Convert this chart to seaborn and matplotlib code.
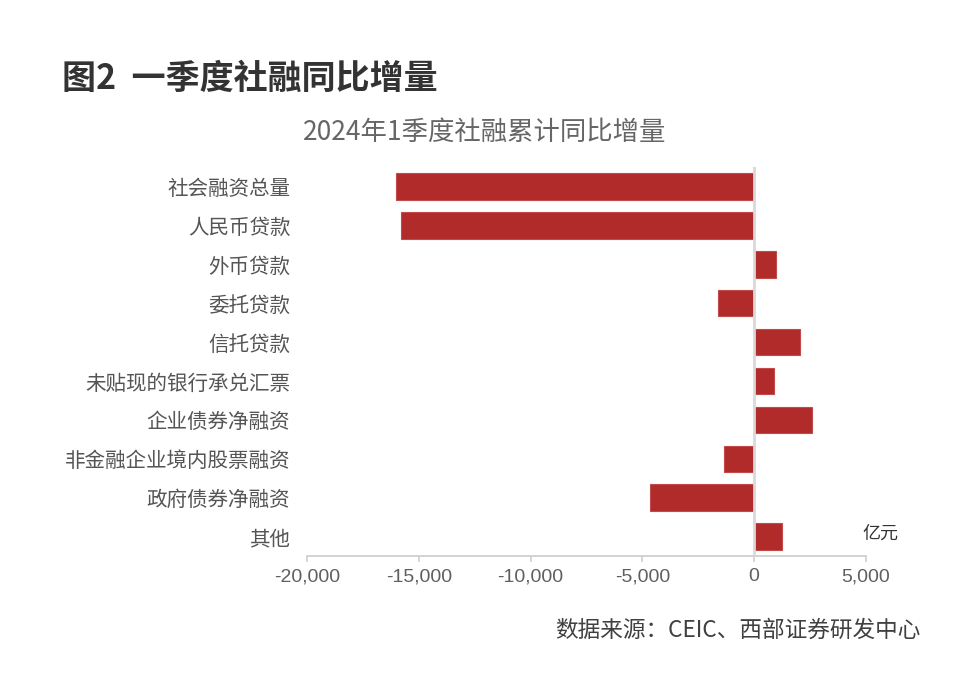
import matplotlib
matplotlib.use('Agg')
import matplotlib.pyplot as plt
import seaborn as sns
import pandas as pd
from matplotlib.ticker import FuncFormatter, FixedLocator

categories = ['社会融资总量', '人民币贷款', '外币贷款', '委托贷款', '信托贷款',
              '未贴现的银行承兑汇票', '企业债券净融资', '非金融企业境内股票融资',
              '政府债券净融资', '其他']
values = [-16040, -15810, 960, -1630, 2070, 870, 2600, -1340, -4660, 1250]
xticks = [-20000, -15000, -10000, -5000, 0, 5000]

main_title = '图2  一季度社融同比增量'
chart_title = '2024年1季度社融累计同比增量'
unit_label = '亿元'
source_text = '数据来源：CEIC、西部证券研发中心'

sns.set_theme(style='white')
plt.rcParams['font.family'] = ['Noto Sans CJK SC', 'DejaVu Sans']

fig = plt.figure(figsize=(9.68, 6.94), dpi=100)
fig.patch.set_facecolor('white')
ax = fig.add_axes([0.3171, 0.199, 0.5775, 0.560])

df = pd.DataFrame({'cat': categories, 'val': values})
sns.barplot(data=df, y='cat', x='val', orient='h', color='#b22b2b',
            saturation=1, width=0.68, edgecolor='#c24a4a', linewidth=0.8, ax=ax)

ax.set_xlim(-20000, 5000)
ax.set_ylim(len(categories) - 0.5, -0.5)
ax.xaxis.set_major_locator(FixedLocator(xticks))
ax.xaxis.set_major_formatter(FuncFormatter(lambda v, p: f'{int(v):,}'))
ax.set_xlabel('')
ax.set_ylabel('')

for s in ['top', 'right', 'left']:
    ax.spines[s].set_visible(False)
ax.spines['bottom'].set_color('#d0d0d0')
ax.spines['bottom'].set_linewidth(1.3)

ax.axvline(0, color='#d9d9d9', lw=2, zorder=3)

ax.tick_params(axis='x', direction='out', length=4, width=1.2, color='#cfcfcf',
               labelsize=14, labelcolor='#5f5f5f', pad=5, bottom=True)
ax.tick_params(axis='y', length=0, pad=12, labelsize=14.8, labelcolor='#555555')
for lab in ax.get_xticklabels():
    lab.set_family(['Liberation Sans', 'DejaVu Sans'])

fig.text(62 / 968, 1 - 78 / 694, main_title, fontsize=24.5, fontweight='bold',
         color='#333333', ha='left', va='center')
fig.text(484.5 / 968, 1 - 132 / 694, chart_title, fontsize=19,
         color='#666666', ha='center', va='center')
fig.text(862 / 968, 1 - 534 / 694, unit_label, fontsize=13,
         color='#333333', ha='left', va='center')
fig.text(920 / 968, 1 - 630 / 694, source_text, fontsize=16.3,
         color='#404040', ha='right', va='center')

fig.savefig('out.png', dpi=100)
